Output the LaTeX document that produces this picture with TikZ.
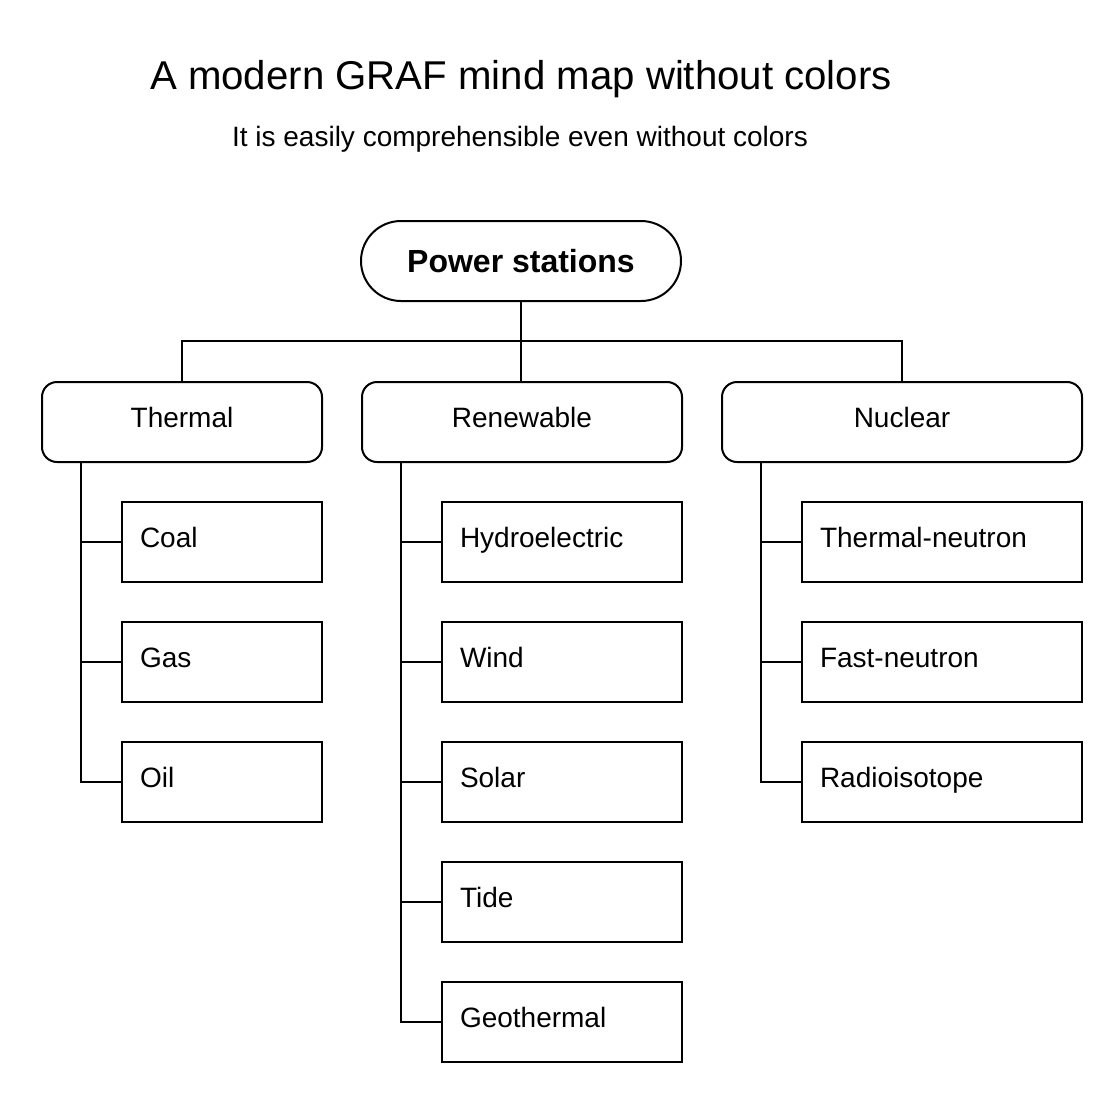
\documentclass[tikz,border=0pt]{standalone}
\usepackage{fontspec}
\setmainfont{Liberation Sans}

\tikzset{
    stationbox/.style={draw, line width=2pt, rounded corners=40pt, minimum width=320pt, minimum height=80pt, font=\fontsize{32}{38}\selectfont\bfseries},
    kindbox/.style={draw, line width=2pt, rounded corners=15pt, anchor=north west, inner xsep=10pt, inner ysep=8pt, text height=37pt, text depth=27pt, align=center, font=\fontsize{28}{34}\selectfont},
    plantbox/.style={draw, line width=2pt, anchor=north west, inner xsep=18pt, inner ysep=8pt, text height=37pt, text depth=27pt, align=left, font=\fontsize{28}{34}\selectfont},
    link/.style={line width=2pt}
}

\begin{document}
\begin{tikzpicture}[x=1pt, y=-1pt]
        \useasboundingbox (0,0) rectangle (1120,1100);

        \node[font=\fontsize{40.2}{48}\selectfont] (title) at (521,79) {A modern GRAF mind map without colors};
        \node[font=\fontsize{28}{34}\selectfont] (subtitle) at (520,139) {It is easily comprehensible even without colors};

        \node[stationbox] (root) at (521,261) {Power stations};

        \node[kindbox, text width=260pt] (thermal) at (41,381) {Thermal};
        \node[kindbox, text width=300pt] (renew) at (361,381) {Renewable};
        \node[kindbox, text width=340pt] (nuclear) at (721,381) {Nuclear};

        % bus from the root to the three kinds
        \coordinate (bus) at (521,341);
        \draw[link] (root.south) -- (root.south |- renew.north);
        \draw[link] (thermal.north) |- (bus) -| (nuclear.north);

        \foreach \name/\txt [count=\i] in {coal/Coal, gas/Gas, oil/Oil}
        {
            \node[plantbox, text width=164pt] (\name) at (121,381+120*\i) {\txt};
            \draw[link] ([xshift=40pt]thermal.south west) |- (\name.west);
        }

        \foreach \name/\txt [count=\i] in {hydro/Hydroelectric, wind/Wind, solar/Solar, tide/Tide, geo/Geothermal}
        {
            \node[plantbox, text width=204pt] (\name) at (441,381+120*\i) {\txt};
            \draw[link] ([xshift=40pt]renew.south west) |- (\name.west);
        }

        \foreach \name/\txt [count=\i] in {tneutron/Thermal-neutron, fneutron/Fast-neutron, radio/Radioisotope}
        {
            \node[plantbox, text width=244pt] (\name) at (801,381+120*\i) {\txt};
            \draw[link] ([xshift=40pt]nuclear.south west) |- (\name.west);
        }
    \end{tikzpicture}
\end{document}
